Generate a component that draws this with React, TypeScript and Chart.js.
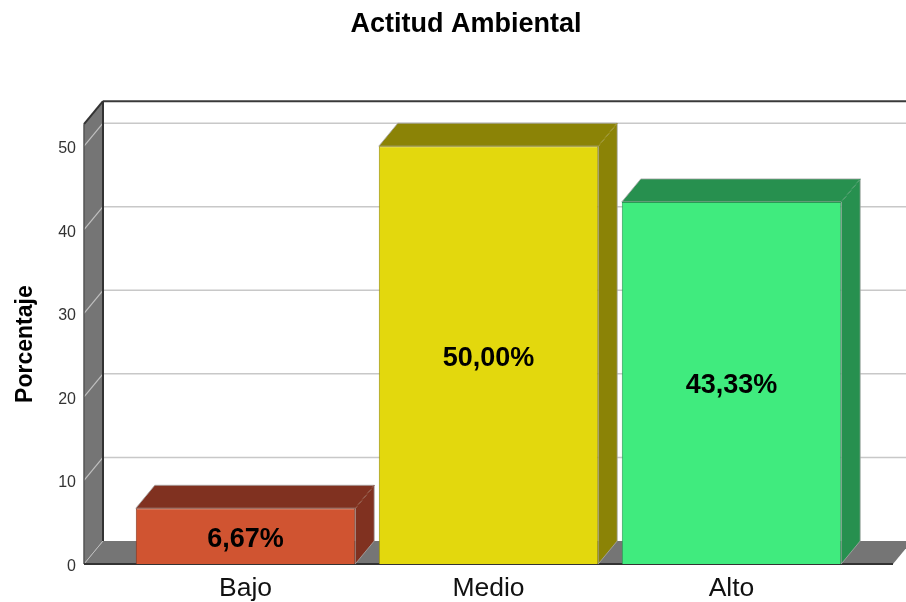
import React, { useEffect, useRef } from "react";
import { Chart, registerables } from "chart.js";

Chart.register(...registerables);

const categories = ["Bajo", "Medio", "Alto"];
const percentages = [6.67, 50.0, 43.33];
const frontColors = ["#D05431", "#E3D80D", "#40EB7E"];
const sideColors = ["#803120", "#8B8306", "#27904F"];
const edgeColors = ["#8A3A22", "#9A9008", "#2A9A55"];
const yTickValues = [0, 10, 20, 30, 40, 50];

const DEPTH_X = 19;
const DEPTH_Y = 23;
const WALL_MARGIN = 40;
const FONT = "'Liberation Sans', Arial, sans-serif";

function poly(ctx: CanvasRenderingContext2D, pts: number[][], fill: string | null, stroke?: string, lw = 1) {
  ctx.beginPath();
  pts.forEach((p, i) => (i ? ctx.lineTo(p[0], p[1]) : ctx.moveTo(p[0], p[1])));
  ctx.closePath();
  if (fill) {
    ctx.fillStyle = fill;
    ctx.fill();
  }
  if (stroke) {
    ctx.strokeStyle = stroke;
    ctx.lineWidth = lw;
    ctx.stroke();
  }
}

function seg(ctx: CanvasRenderingContext2D, x0: number, y0: number, x1: number, y1: number, color: string, lw: number) {
  ctx.beginPath();
  ctx.moveTo(x0, y0);
  ctx.lineTo(x1, y1);
  ctx.strokeStyle = color;
  ctx.lineWidth = lw;
  ctx.stroke();
}

const box3d = {
  id: "box3d",
  afterLayout(chart: any) {
    if (chart.titleBlock) {
      chart.titleBlock.left = 26;
      chart.titleBlock.right = 906;
    }
  },
  beforeDraw(chart: any) {
    chart.scales.y.getLabelItems().forEach((item: any) => {
      item.textOffset = 2.5;
    });
  },
  beforeDatasetsDraw(chart: any) {
    const { ctx, chartArea, scales } = chart;
    const y = scales.y;
    const left = chartArea.left - WALL_MARGIN;
    const right = chartArea.right + WALL_MARGIN;
    const bottom = y.getPixelForValue(0);
    const top = chartArea.top;
    ctx.save();
    // side wall
    poly(ctx, [[left, bottom], [left, top], [left + DEPTH_X, top - DEPTH_Y], [left + DEPTH_X, bottom - DEPTH_Y]], "#757575");
    // grid lines on back plane and wall
    yTickValues.forEach((v) => {
      const py = y.getPixelForValue(v);
      if (v > 0) {
        seg(ctx, left + DEPTH_X, py - DEPTH_Y, right + DEPTH_X, py - DEPTH_Y, "#C8C8C8", 1.5);
        seg(ctx, left, py, left + DEPTH_X, py - DEPTH_Y, "#C0C0C0", 1.2);
      }
    });
    // floor
    poly(ctx, [[left, bottom], [right, bottom], [right + DEPTH_X, bottom - DEPTH_Y], [left + DEPTH_X, bottom - DEPTH_Y]], "#757575");
    seg(ctx, left, bottom, left + DEPTH_X, bottom - DEPTH_Y, "#C0C0C0", 1);
    // frame
    seg(ctx, left + DEPTH_X, top - DEPTH_Y, right + DEPTH_X, top - DEPTH_Y, "#3A3A3A", 2);
    seg(ctx, left + DEPTH_X, top - DEPTH_Y, left + DEPTH_X, bottom - DEPTH_Y, "#333333", 2);
    seg(ctx, left, top, left + DEPTH_X, top - DEPTH_Y, "#333333", 2);
    seg(ctx, left, top, left, bottom, "#555555", 1.5);
    seg(ctx, left, bottom, right, bottom, "#333333", 2);
    // bar sides and tops
    chart.getDatasetMeta(0).data.forEach((bar: any, i: number) => {
      const x0 = bar.x - bar.width / 2;
      const x1 = bar.x + bar.width / 2;
      const yt = bar.y;
      const yb = bar.base;
      poly(ctx, [[x1, yb], [x1, yt], [x1 + DEPTH_X, yt - DEPTH_Y], [x1 + DEPTH_X, yb - DEPTH_Y]], sideColors[i], "#A8A8A8", 0.8);
      poly(ctx, [[x0, yt], [x1, yt], [x1 + DEPTH_X, yt - DEPTH_Y], [x0 + DEPTH_X, yt - DEPTH_Y]], sideColors[i], "#A8A8A8", 0.8);
      seg(ctx, x1, yt, x1 + DEPTH_X, yt - DEPTH_Y, edgeColors[i], 1);
    });
    ctx.restore();
  },
  afterDatasetsDraw(chart: any) {
    const { ctx } = chart;
    ctx.save();
    ctx.fillStyle = "#000000";
    ctx.font = `bold 27px ${FONT}`;
    ctx.textAlign = "center";
    ctx.textBaseline = "middle";
    chart.getDatasetMeta(0).data.forEach((bar: any, i: number) => {
      const text = percentages[i].toFixed(2).replace(".", ",") + "%";
      ctx.fillText(text, bar.x, (bar.y + bar.base) / 2 + 3);
    });
    ctx.restore();
  },
};

export default function App() {
  const ref = useRef<HTMLCanvasElement>(null);
  useEffect(() => {
    const chart = new Chart(ref.current as HTMLCanvasElement, {
      type: "bar",
      data: {
        labels: categories,
        datasets: [
          {
            label: "Porcentaje",
            data: percentages,
            backgroundColor: frontColors,
            borderColor: edgeColors,
            borderWidth: 1,
            categoryPercentage: 1,
            barPercentage: 0.903,
          },
        ],
      },
      options: {
        responsive: false,
        animation: false,
        layout: { padding: { left: 0, right: 53, top: 0, bottom: 0 } },
        plugins: {
          legend: { display: false },
          tooltip: { enabled: false },
          title: {
            display: true,
            text: "Actitud Ambiental",
            color: "#000000",
            font: { family: FONT, size: 27, weight: "bold", lineHeight: 1.2 },
            padding: { top: 8, bottom: 83.8 },
          },
        },
        scales: {
          x: {
            grid: { display: false },
            border: { display: false },
            ticks: { color: "#111111", font: { family: FONT, size: 26.5 }, padding: 1, maxRotation: 0 },
            afterFit: (s: any) => {
              s.height = 38;
            },
          },
          y: {
            min: 0,
            max: 52.63,
            afterBuildTicks: (s: any) => {
              s.ticks = yTickValues.map((value) => ({ value }));
            },
            grid: { display: false, drawTicks: false },
            border: { display: false },
            ticks: { color: "#333333", font: { family: FONT, size: 16 }, padding: 48 },
            title: {
              display: true,
              text: "Porcentaje",
              color: "#000000",
              font: { family: FONT, size: 23, weight: "bold" },
              padding: { top: 12, bottom: 0 },
            },
            afterFit: (s: any) => {
              s.width = 124;
              s.paddingTop = 0;
              s.paddingBottom = 0;
            },
          },
        },
      },
      plugins: [box3d],
    } as any);
    return () => chart.destroy();
  }, []);
  return (
    <canvas
      ref={ref}
      width={906}
      height={602}
      style={{ position: "fixed", left: 0, top: 0, display: "block", background: "#ffffff" }}
    />
  );
}
